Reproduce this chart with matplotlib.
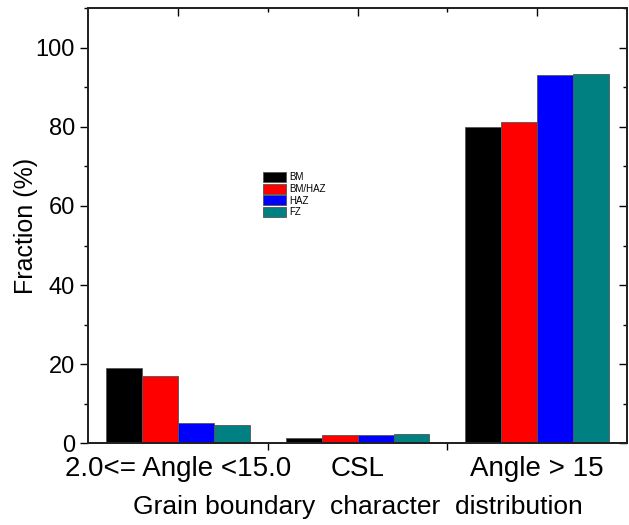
import numpy as np
import matplotlib.pyplot as plt
from matplotlib.ticker import FixedLocator, MultipleLocator

plt.rcParams["font.family"] = ["Liberation Sans", "DejaVu Sans"]

categories = ["2.0<= Angle <15.0", "CSL", "Angle > 15"]
series = ["BM", "BM/HAZ", "HAZ", "FZ"]
bm = [18.9, 1.35, 79.9]
bm_haz = [16.9, 2.1, 81.2]
haz = [5.0, 2.0, 93.2]
fz = [4.6, 2.2, 93.3]
colors = ["#000000", "#ff0000", "#0000ff", "#008080"]

fig = plt.figure(figsize=(6.29, 5.25), dpi=100)
ax = fig.add_axes([0.140, 0.156, 0.857, 0.828])

x = np.arange(len(categories))
width = 0.2
for i, (name, vals) in enumerate(zip(series, [bm, bm_haz, haz, fz])):
    ax.bar(x + (i - 1.5) * width, vals, width, color=colors[i], edgecolor="#555555",
           linewidth=0.6, label=name)

ax.set_xlim(-0.5, 2.5)
ax.set_ylim(0, 110)

# bottom: labels at groups, ticks between groups
ax.set_xticks(x)
ax.set_xticklabels(categories, fontsize=20)
ax.tick_params(axis="x", which="major", length=0, pad=9)
ax.xaxis.set_minor_locator(FixedLocator([0.5, 1.5]))
ax.tick_params(axis="x", which="minor", direction="out", length=5, width=1)

ax.yaxis.set_major_locator(FixedLocator([0, 20, 40, 60, 80, 100]))
ax.yaxis.set_minor_locator(MultipleLocator(10))
ax.tick_params(axis="y", which="major", direction="out", length=6, width=1, labelsize=17)
ax.tick_params(axis="y", which="minor", direction="out", length=3, width=1)

# top and right mirrored ticks, inward
axt = ax.twiny()
axt.set_xlim(ax.get_xlim())
axt.set_xticks(x)
axt.xaxis.set_minor_locator(FixedLocator([0.5, 1.5]))
axt.tick_params(axis="x", which="major", direction="in", length=6, width=1, labeltop=False)
axt.tick_params(axis="x", which="minor", direction="in", length=3, width=1)
axr = ax.twinx()
axr.set_ylim(ax.get_ylim())
axr.yaxis.set_major_locator(FixedLocator([0, 20, 40, 60, 80, 100]))
axr.yaxis.set_minor_locator(MultipleLocator(10))
axr.tick_params(axis="y", which="major", direction="in", length=6, width=1, labelright=False)
axr.tick_params(axis="y", which="minor", direction="in", length=3, width=1)

for a in (ax, axt, axr):
    for s in a.spines.values():
        s.set_linewidth(1.2)
        s.set_color("#222222")

ax.set_ylabel("Fraction (%)", fontsize=18, labelpad=-2)
ax.set_xlabel("Grain boundary  character  distribution", fontsize=19, labelpad=10)

ax.legend(loc="upper left", bbox_to_anchor=(259 / 629, 1 - 168 / 525),
          bbox_transform=fig.transFigure, frameon=False, fontsize=7,
          handlelength=2.4, handleheight=1.2, labelspacing=0.15,
          handletextpad=0.3, borderaxespad=0)

fig.savefig("out.png", dpi=100)
